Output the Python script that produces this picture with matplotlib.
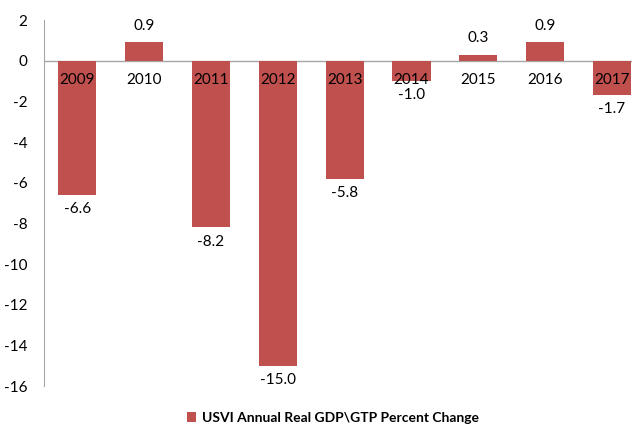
import matplotlib.pyplot as plt

years = ['2009', '2010', '2011', '2012', '2013', '2014', '2015', '2016', '2017']
change = [-6.6, 0.9, -8.2, -15.0, -5.8, -1.0, 0.3, 0.9, -1.7]
yticks = [2, 0, -2, -4, -6, -8, -10, -12, -14, -16]

plt.rcParams['font.family'] = ['Lato', 'DejaVu Sans']

fig = plt.figure(figsize=(6.4, 4.3), dpi=100)
ax = fig.add_axes([44/640, 1 - 386/430, (632 - 44)/640, (386 - 20)/430])

x = range(len(years))
ax.bar(x, change, width=0.57, color='#C0504D', label='USVI Annual Real GDP\\GTP Percent Change', zorder=2)

# year labels sit just under the zero line
for i, yr in enumerate(years):
    ax.text(i, -0.95, yr, ha='center', va='center', fontsize=11, color='black', zorder=3)

# value labels
for i, v in enumerate(change):
    if v < 0:
        ax.text(i, v - 0.35, '%.1f' % v, ha='center', va='top', fontsize=11)
    else:
        ax.text(i, v + 0.45, '%.1f' % v, ha='center', va='bottom', fontsize=11)

ax.set_xlim(-0.5, 8.3)
ax.set_ylim(-16, 2)
ax.set_yticks(yticks)
ax.set_yticklabels([str(t) for t in yticks], fontsize=11)
ax.set_xticks([])
ax.axhline(0, color='#A6A6A6', lw=1, zorder=1)
for s in ['top', 'right', 'bottom']:
    ax.spines[s].set_visible(False)
ax.spines['left'].set_color('#A6A6A6')
ax.tick_params(axis='y', length=0, pad=12)

leg = fig.legend(loc='center', bbox_to_anchor=(0.52, 1 - 418/430), frameon=False,
                 handlelength=0.7, handleheight=0.7, handletextpad=0.4,
                 prop={'size': 10, 'weight': 'bold'})

fig.savefig('out.png', dpi=100)
